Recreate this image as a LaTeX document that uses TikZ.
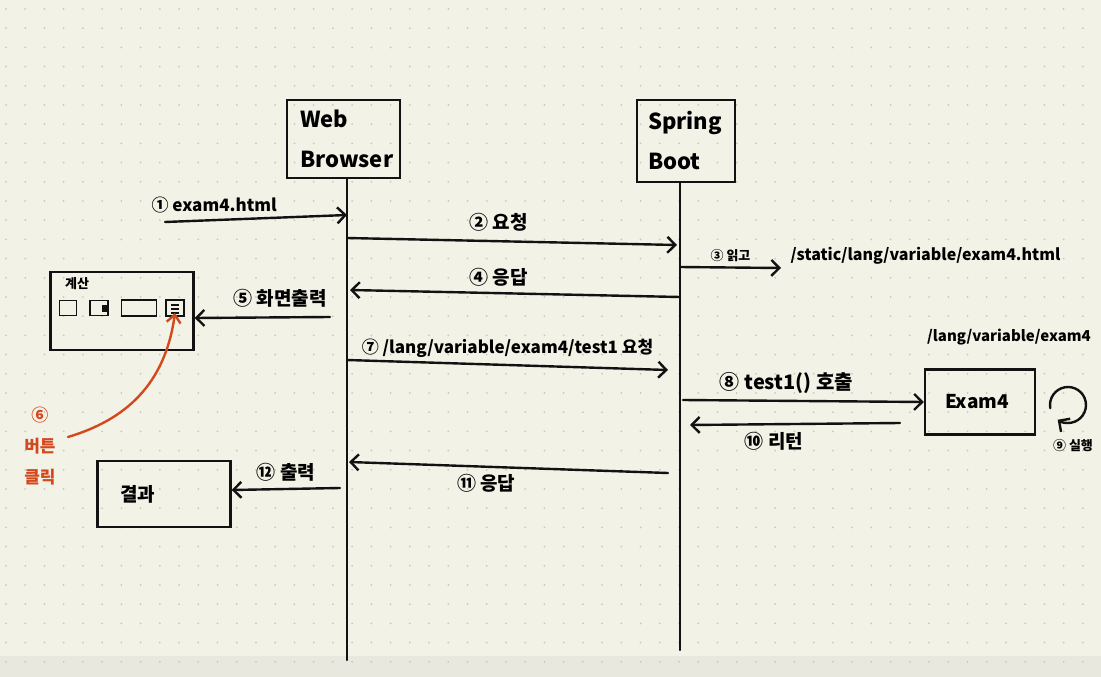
\documentclass[tikz,border=0pt]{standalone}
\usepackage{fontspec}
\setmainfont{Noto Sans CJK KR}
\usetikzlibrary{positioning,arrows.meta}
\definecolor{paper}{RGB}{242,242,231}
\definecolor{paperlow}{RGB}{232,232,222}
\definecolor{griddot}{RGB}{200,200,190}
\definecolor{pen}{RGB}{18,18,18}
\definecolor{redpen}{RGB}{212,72,30}
\tikzset{msg/.style={draw=pen, line width=2.4pt, line cap=round, -{Straight Barb[length=8pt,width=16pt]}}}
\tikzset{lifeline/.style={draw=pen, line width=2.4pt, line cap=round}}

\begin{document}
\begin{tikzpicture}[x=1pt, y=-1pt, font=\fontsize{19}{22}\selectfont\bfseries,
  actor/.style = {draw=pen, line width=2.4pt, align=left, font=\fontsize{22}{40}\selectfont\bfseries},
  frame/.style = {draw=pen, line width=2.4pt},
  btn/.style = {draw=pen, line width=1.8pt, inner sep=0pt}]
% paper
\useasboundingbox (0,0) rectangle (1101,677);
\fill[paper] (0,0) rectangle (1101,677);
\fill[paperlow] (0,656) rectangle (1101,677);
\foreach \i in {0,...,57} {
  \foreach \j in {0,...,34} {
    \fill[griddot] (6+19.23*\i, 9+19.2*\j) circle (1);
  }
}

% participants
\node[actor, text width=87pt, inner xsep=13pt, minimum height=78pt] (web) at (343.5,139) {Web\\Browser};
\node[actor, text width=76pt, inner xsep=11pt, minimum height=82pt] (spring) at (686,141) {Spring\\Boot};
\coordinate (webend) at (347,660);
\coordinate (springend) at (680,650);
\draw[lifeline] (web.south -| webend) -- (webend);
\draw[lifeline] (spring.south -| springend) -- (springend);

% screen with buttons
\node[frame, minimum width=143pt, minimum height=78pt] (screen) at (122,311) {};
\node[font=\fontsize{13}{15}\selectfont\bfseries] (calc) at (77,284) {계산};
\node[btn, minimum width=17pt, minimum height=15pt] (btn1) at (68,308) {};
\node[btn, minimum width=18pt, minimum height=15pt] (btn2) at (99,308) {};
\fill[pen] (102,305) rectangle (107,312);
\node[btn, minimum width=35pt, minimum height=16pt] (btn3) at (139,308) {};
\node[btn, minimum width=18pt, minimum height=16pt] (btn4) at (175,308) {};
\draw[pen, line width=1.4pt] (171,305) -- (179,305) (171,309) -- (179,309) (171,313) -- (179,313);

% result and controller boxes
\node[frame, align=left, text width=87pt, inner xsep=23pt, minimum height=66pt, font=\fontsize{19}{21}\selectfont\bfseries] (result) at (164,494) {결과};
\node[frame, align=left, text width=70pt, inner xsep=20pt, minimum height=65pt, font=\fontsize{19}{21}\selectfont\bfseries] (exam) at (980,402) {Exam4};
\node[font=\fontsize{15}{18}\selectfont\bfseries] (exampath) at (1009,337) {/lang/variable/exam4};

% messages
\coordinate (start) at (165,222);
\coordinate (w1) at (347,215);
\draw[msg] (start) -- (w1) node[pos=0.27, above=2pt, font=\fontsize{17}{20}\selectfont\bfseries] {① exam4.html};

\coordinate (w2) at (347,238);
\coordinate (s2) at (677,245);
\draw[msg] (w2) -- (s2) node[pos=0.46, above=5pt] {② 요청};

\coordinate (s3) at (680,267);
\coordinate (read) at (781,268);
\draw[msg] (s3) -- (read) node[midway, above=1pt, font=\fontsize{13}{15}\selectfont\bfseries] {③ 읽고};
\node[right=6pt of read, yshift=12pt, font=\fontsize{16}{19}\selectfont\bfseries] (staticpath) {/static/lang/variable/exam4.html};

\coordinate (s4) at (680,297);
\coordinate (w4) at (350,290);
\draw[msg] (s4) -- (w4) node[pos=0.55, above=2pt] {④ 응답};

\coordinate (w5) at (330,317);
\draw[msg] (w5) -- (screen.east |- 0,318) node[pos=0.37, above=6pt] {⑤ 화면출력};

\coordinate (click) at (68,437);
\draw[draw=redpen, line width=2.4pt, line cap=round, -{Straight Barb[length=8pt,width=14pt]}]
  (click) .. controls (125,420) and (165,385) .. ([yshift=4pt]btn4.south);
\node[text=redpen, align=center, font=\fontsize{17}{31}\selectfont\bfseries] (clicklabel) at (40,446) {⑥\\버튼\\클릭};

\coordinate (w7) at (347,360);
\coordinate (s7) at (668,370);
\draw[msg] (w7) -- (s7) node[midway, above=3pt, font=\fontsize{17}{20}\selectfont\bfseries] {⑦ /lang/variable/exam4/test1 요청};

\coordinate (s8) at (683,400);
\draw[msg] (s8) -- (exam.west |- 0,402) node[pos=0.43, above=3pt, font=\fontsize{20}{23}\selectfont\bfseries] {⑧ test1() 호출};

\draw[msg] (1068,405) ++(170:18) arc[start angle=170, end angle=485, radius=18];
\node[font=\fontsize{13}{15}\selectfont\bfseries] (run) at (1073,446) {⑨ 실행};

\coordinate (e10) at (900,423);
\coordinate (s10) at (690,425);
\draw[msg] (e10) -- (s10) node[pos=0.6, below=4pt] {⑩ 리턴};

\coordinate (s11) at (668,473);
\coordinate (w11) at (349,462);
\draw[msg] (s11) -- (w11) node[pos=0.57, below=3pt] {⑪ 응답};

\coordinate (w12) at (340,488);
\draw[msg] (w12) -- (result.east |- 0,490) node[midway, above=3pt] {⑫ 출력};
\end{tikzpicture}
\end{document}
